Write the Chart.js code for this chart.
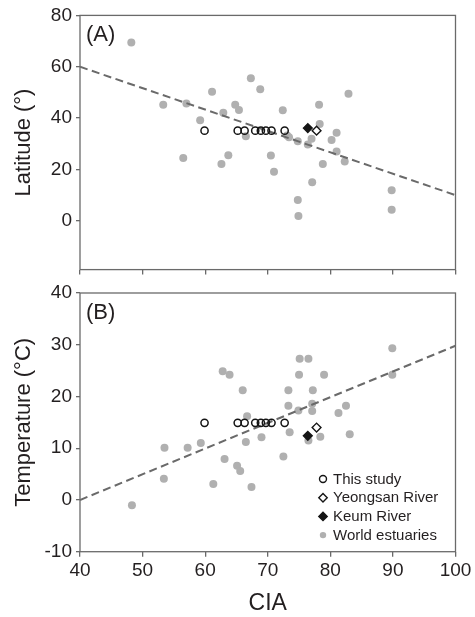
<!DOCTYPE html>
<html>
<head>
<meta charset="utf-8">
<script src="https://cdn.jsdelivr.net/npm/chart.js@4.4.0/dist/chart.umd.min.js"></script>
<style>
  html, body { margin: 0; padding: 0; background: #fff; }
  #contenedor { position: relative; width: 475px; height: 617px; overflow: hidden; }
  canvas { position: absolute; left: 0; }
  #grafico-a { top: 0; }
  #grafico-b { top: 270px; }
</style>
</head>
<body>
<div id="contenedor">
  <canvas id="grafico-a" width="475" height="285" style="width:475px;height:285px"></canvas>
  <canvas id="grafico-b" width="475" height="347" style="width:475px;height:347px"></canvas>
</div>
<script>
// Ticks de los ejes
const ciaTicks = [40, 50, 60, 70, 80, 90, 100];
const latTicks = [0, 20, 40, 60, 80];
const tempTicks = [-10, 0, 10, 20, 30, 40];

// This study
const estudioCIA = [59.9, 65.2, 66.3, 68.0, 68.9, 69.7, 70.6, 72.7];
const estudioLat = [35.1, 35.1, 35.1, 35.1, 35.1, 35.1, 35.1, 35.1];
const estudioTemp = [14.9, 14.9, 14.9, 14.9, 14.9, 14.9, 14.9, 14.9];

// Yeongsan River / Keum River
const yeongsanCIA = [77.8];
const yeongsanLat = [35.1];
const yeongsanTemp = [14.0];
const keumCIA = [76.4];
const keumLat = [36.1];
const keumTemp = [12.4];

// World estuaries (A)
const mundoCIA_A = [48.2, 53.3, 57.0, 61.1, 59.2, 56.5, 62.9, 62.6, 63.7, 64.8, 65.4, 66.5,
  67.3, 68.8, 70.5, 71.0, 72.4, 73.1, 73.4, 74.8, 74.8, 74.9, 76.4, 77.0, 77.1, 78.2, 78.3,
  78.8, 80.2, 81.0, 81.0, 82.3, 82.9, 89.8, 89.8];
const mundoLat = [69.4, 45.2, 45.7, 50.3, 39.2, 24.5, 42.1, 22.1, 25.5, 45.2, 43.2, 32.9,
  55.5, 51.2, 25.4, 19.1, 43.1, 33.2, 32.5, 31.0, 8.1, 1.9, 29.7, 32.0, 15.0, 45.2, 37.7,
  22.1, 31.5, 34.3, 27.0, 23.1, 49.5, 11.9, 4.3];

// World estuaries (B)
const mundoCIA_B = [48.3, 53.5, 53.4, 57.2, 59.3, 61.3, 62.8, 63.9, 63.1, 65.1, 65.6, 67.4,
  66.0, 66.7, 66.5, 69.0, 72.5, 73.3, 73.3, 73.5, 74.9, 75.0, 75.1, 76.5, 77.2, 77.1, 77.1,
  76.5, 78.4, 79.0, 81.3, 82.5, 83.1, 89.9, 89.9];
const mundoTemp = [-1.0, 10.1, 4.1, 10.1, 11.0, 3.1, 24.9, 24.2, 7.9, 6.6, 5.6, 2.5,
  21.2, 16.2, 11.2, 12.1, 8.4, 21.2, 18.2, 13.1, 17.3, 24.2, 27.3, 27.3, 21.2, 18.6, 17.2,
  11.5, 12.2, 24.2, 16.8, 18.2, 12.7, 29.3, 24.2];

// Rectas de tendencia
const tendenciaCIA = [40, 100];
const tendenciaLat = [60, 10];
const tendenciaTemp = [0, 29.8];

const etiquetasPanel = ['(A)', '(B)'];
const leyendaTextos = ['This study', 'Yeongsan River', 'Keum River', 'World estuaries'];

const fuente = "'Liberation Sans', Arial, sans-serif";
const colorTexto = '#231f20';
const colorEje = '#6a6a6a';
const colorGris = '#b0b0b0';
const colorNegro = '#151515';

function puntos(xs, ys) {
    return xs.map((x, i) => ({ x: x, y: ys[i] }));
}

// Marco alrededor del area del grafico
const marco = {
    id: 'marco',
    afterDraw(chart) {
        const { ctx, chartArea: a } = chart;
        ctx.save();
        ctx.strokeStyle = colorEje;
        ctx.lineWidth = 1.3;
        ctx.strokeRect(a.left, a.top, a.right - a.left, a.bottom - a.top);
        ctx.restore();
    }
};

// Etiqueta (A) / (B)
const etiqueta = {
    id: 'etiqueta',
    afterDraw(chart, args, opts) {
        const { ctx, chartArea: a } = chart;
        ctx.save();
        ctx.font = '22px ' + fuente;
        ctx.fillStyle = colorTexto;
        ctx.textBaseline = 'alphabetic';
        ctx.fillText(opts.texto, a.left + 6, a.top + 26);
        ctx.restore();
    }
};

function marcador(ctx, tipo, x, y) {
    ctx.save();
    ctx.lineWidth = 1.4;
    ctx.strokeStyle = colorNegro;
    if (tipo === 0) {
        ctx.beginPath();
        ctx.arc(x, y, 3.5, 0, Math.PI * 2);
        ctx.stroke();
    } else if (tipo === 1 || tipo === 2) {
        const r = 4.2;
        ctx.beginPath();
        ctx.moveTo(x, y - r);
        ctx.lineTo(x + r, y);
        ctx.lineTo(x, y + r);
        ctx.lineTo(x - r, y);
        ctx.closePath();
        ctx.fillStyle = tipo === 1 ? '#fff' : colorNegro;
        ctx.fill();
        ctx.stroke();
    } else {
        ctx.beginPath();
        ctx.arc(x, y, 3.2, 0, Math.PI * 2);
        ctx.fillStyle = colorGris;
        ctx.fill();
    }
    ctx.restore();
}

// Leyenda dentro del panel B
const leyenda = {
    id: 'leyenda',
    afterDraw(chart, args, opts) {
        if (!opts.mostrar) return;
        const { ctx, chartArea: a } = chart;
        ctx.save();
        ctx.font = '15px ' + fuente;
        ctx.fillStyle = colorTexto;
        ctx.textBaseline = 'middle';
        leyendaTextos.forEach((t, i) => {
            const y = a.bottom - 72.7 + i * 18.7;
            marcador(ctx, i, a.right - 132.5, y);
            ctx.fillText(t, a.right - 122.5, y + 0.5);
        });
        ctx.restore();
    }
};

function datasets(ys) {
    return [
        {
            label: 'This study', data: puntos(estudioCIA, ys.estudio), order: 1,
            pointStyle: 'circle', pointRadius: 3.6, pointBorderWidth: 1.5,
            pointBorderColor: colorNegro, pointBackgroundColor: 'rgba(0,0,0,0)'
        },
        {
            label: 'Yeongsan River', data: puntos(yeongsanCIA, ys.yeongsan), order: 2,
            pointStyle: 'rectRot', pointRadius: 4.4, pointBorderWidth: 1.4,
            pointBorderColor: colorNegro, pointBackgroundColor: '#fff'
        },
        {
            label: 'Keum River', data: puntos(keumCIA, ys.keum), order: 3,
            pointStyle: 'rectRot', pointRadius: 4.4, pointBorderWidth: 1.4,
            pointBorderColor: colorNegro, pointBackgroundColor: colorNegro
        },
        {
            label: 'Tendencia', data: puntos(tendenciaCIA, ys.tendencia), order: 4,
            showLine: true, borderColor: colorEje, borderWidth: 2, borderDash: [8, 4.5],
            pointRadius: 0, fill: false
        },
        {
            label: 'World estuaries', data: puntos(ys.mundoX, ys.mundo), order: 5,
            pointStyle: 'circle', pointRadius: 4, pointBorderWidth: 0,
            pointBackgroundColor: colorGris, pointBorderColor: colorGris
        }
    ];
}

function crearGrafico(id, cfg) {
    return new Chart(document.getElementById(id), {
        type: 'scatter',
        data: { datasets: datasets(cfg.ys) },
        options: {
            responsive: false,
            animation: false,
            events: [],
            layout: { padding: cfg.padding },
            plugins: {
                legend: { display: false },
                tooltip: { enabled: false },
                etiqueta: { texto: cfg.etiqueta },
                leyenda: { mostrar: cfg.leyenda }
            },
            scales: {
                x: {
                    min: 40, max: 100,
                    afterBuildTicks: s => { s.ticks = ciaTicks.map(v => ({ value: v })); },
                    afterFit: s => { s.height = cfg.altoX; },
                    border: { display: false },
                    grid: { drawOnChartArea: false, drawTicks: true, tickLength: 5, color: colorEje, lineWidth: 1.3 },
                    ticks: { display: cfg.etiquetasX, padding: 3, color: colorTexto, font: { family: fuente, size: 19 } },
                    title: {
                        display: cfg.etiquetasX, text: 'CIA', color: colorTexto,
                        font: { family: fuente, size: 23 }, padding: { top: 0, bottom: 0 }
                    }
                },
                y: {
                    min: cfg.yMin, max: cfg.yMax,
                    afterBuildTicks: s => { s.ticks = cfg.yTicks.map(v => ({ value: v })); },
                    afterFit: s => { s.width = 80; },
                    border: { display: false },
                    grid: { drawOnChartArea: false, drawTicks: true, tickLength: 4, color: colorEje, lineWidth: 1.3 },
                    ticks: { padding: 4, color: colorTexto, font: { family: fuente, size: 19 } },
                    title: {
                        display: true, text: cfg.tituloY, color: colorTexto,
                        font: { family: fuente, size: 22 }, padding: { top: 11, bottom: 0 }
                    }
                }
            }
        },
        plugins: [marco, etiqueta, leyenda]
    });
}

// Panel A: latitud
crearGrafico('grafico-a', {
    ys: { estudio: estudioLat, yeongsan: yeongsanLat, keum: keumLat, tendencia: tendenciaLat, mundoX: mundoCIA_A, mundo: mundoLat },
    padding: { top: 14, right: 19.5, bottom: 5, left: 0 },
    altoX: 6, etiquetasX: false,
    yMin: -19, yMax: 80, yTicks: latTicks,
    tituloY: 'Latitude (°)', etiqueta: etiquetasPanel[0], leyenda: false
});

// Panel B: temperatura
crearGrafico('grafico-b', {
    ys: { estudio: estudioTemp, yeongsan: yeongsanTemp, keum: keumTemp, tendencia: tendenciaTemp, mundoX: mundoCIA_B, mundo: mundoTemp },
    padding: { top: 23, right: 19.5, bottom: 0, left: 0 },
    altoX: 65.3, etiquetasX: true,
    yMin: -10, yMax: 40, yTicks: tempTicks,
    tituloY: 'Temperature (°C)', etiqueta: etiquetasPanel[1], leyenda: true
});
</script>
</body>
</html>
